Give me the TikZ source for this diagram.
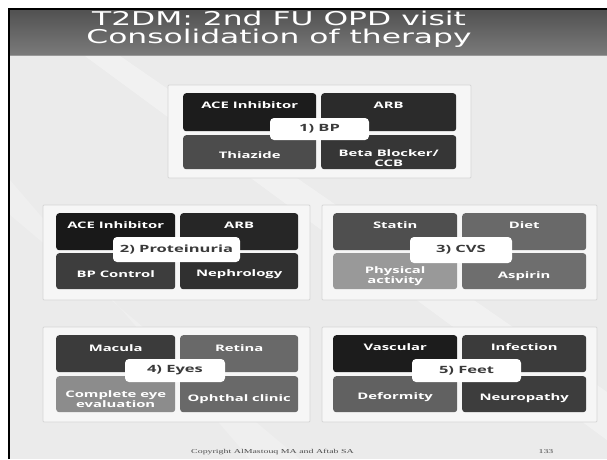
\documentclass[tikz,border=0pt]{standalone}
\usepackage{fontspec}
\usepackage{graphicx}
\setmainfont{Open Sans}
\newfontfamily\titlefont{DejaVu Sans}
\newfontfamily\footfont{Liberation Serif}
\usetikzlibrary{positioning}

% the slide text is stretched sideways
\newcommand{\wtext}[1]{\scalebox{1.65}[1]{#1}}

\definecolor{slidebg}{HTML}{EBEBEB}
\definecolor{panelfill}{HTML}{F6F6F6}
\definecolor{panelline}{HTML}{D6D6D6}
\definecolor{taggray}{HTML}{3A3A3A}

\tikzset{
  panel/.style={draw=panelline, fill=panelfill, line width=0.8pt, rounded corners=1pt},
  tile/.style={rounded corners=3pt, inner sep=0pt, anchor=north west, draw=none},
  tiletxt/.style={text=white, font=\bfseries\fontsize{9}{10}\selectfont, align=center, inner sep=0pt},
  tag/.style={fill=white, rounded corners=4pt, text=taggray, inner sep=0pt,
    font=\bfseries\fontsize{10}{11}\selectfont},
  foot/.style={text=black!70, font=\footfont\fontsize{6}{7}\selectfont, inner sep=0pt}
}

\begin{document}
\begin{tikzpicture}[x=1pt, y=-1pt]
\useasboundingbox (0,0) rectangle (607,459);
\fill[white] (0,0) rectangle (607,459); % page
\fill[slidebg] (10,55) rectangle (607,459); % slide
\fill[white, opacity=0.35] (85,56) -- (120,56) -- (607,392) -- (607,440) -- cycle; % streak
\fill[white, opacity=0.2] (10,180) -- (10,215) -- (300,459) -- (250,459) -- cycle; % streak
\shade[top color=black!68, bottom color=black!52] (10,10) rectangle (607,55); % title bar
\draw[black!40, line width=0.6pt] (10,55) -- (607,55);
\node[anchor=base, text=white, inner sep=0pt, align=center,
  font=\titlefont\fontsize{19}{18.5}\selectfont]
  (title) at (279,43.5) {\wtext{T2DM: 2nd FU OPD visit}\\\wtext{Consolidation of therapy}}; % title
\draw[line width=2pt] (9,459) -- (9,9) -- (607,9); % frame

% 1) BP
\draw[panel] (168,85) rectangle (471,178); % panel 1
\node[tile, fill=black!89, minimum width=133pt, minimum height=38pt] (bpace) at (183,93) {};
\node[tile, fill=black!83, minimum width=135pt, minimum height=38pt] (bparb) at (321,93) {};
\node[tile, fill=black!70, minimum width=133pt, minimum height=34pt] (bpthz) at (183,135) {};
\node[tile, fill=black!79, minimum width=135pt, minimum height=34pt] (bpbeta) at (321,135) {};
\node[tiletxt] (bpacet) at ([yshift=-12.5pt]bpace.north) {\wtext{ACE Inhibitor}};
\node[tiletxt] (bparbt) at ([yshift=-12.5pt]bparb.north) {\wtext{ARB}};
\node[tiletxt] (bpthzt) at ([yshift=14pt]bpthz.south) {\wtext{Thiazide}};
\node[tiletxt] (bpbetat) at ([yshift=11pt]bpbeta.south) {\wtext{Beta Blocker/}\\\wtext{CCB}};
\node[tag, minimum width=99pt, minimum height=22pt] (bptag) at (319.5,129) {\wtext{1) BP}};

% 2) Proteinuria
\draw[panel] (43,205) rectangle (310,300); % panel 2
\node[tile, fill=black!90, minimum width=119pt, minimum height=37pt] (prace) at (56,213) {};
\node[tile, fill=black!85, minimum width=118pt, minimum height=37pt] (prarb) at (180,213) {};
\node[tile, fill=black!76, minimum width=119pt, minimum height=36pt] (prbpc) at (56,253) {};
\node[tile, fill=black!81, minimum width=118pt, minimum height=36pt] (prnep) at (180,253) {};
\node[tiletxt] (pracet) at ([yshift=-12.5pt]prace.north) {\wtext{ACE Inhibitor}};
\node[tiletxt] (prarbt) at ([yshift=-12.5pt]prarb.north) {\wtext{ARB}};
\node[tiletxt] (prbpct) at ([yshift=15pt]prbpc.south) {\wtext{BP Control}};
\node[tiletxt] (prnept) at ([yshift=15pt]prnep.south) {\wtext{Nephrology}};
\node[tag, minimum width=127pt, minimum height=25pt] (prtag) at (176.5,249.5) {\wtext{2) Proteinuria}};

% 3) CVS
\draw[panel] (322,205) rectangle (597,300); % panel 3
\node[tile, fill=black!69, minimum width=124pt, minimum height=37pt] (cvstat) at (333,213) {};
\node[tile, fill=black!59, minimum width=124pt, minimum height=37pt] (cvdiet) at (462,213) {};
\node[tile, fill=black!40, minimum width=124pt, minimum height=36pt] (cvphys) at (333,253) {};
\node[tile, fill=black!57, minimum width=124pt, minimum height=36pt] (cvasp) at (462,253) {};
\node[tiletxt] (cvstatt) at ([yshift=-12.5pt]cvstat.north) {\wtext{Statin}};
\node[tiletxt] (cvdiett) at ([yshift=-12.5pt]cvdiet.north) {\wtext{Diet}};
\node[tiletxt] (cvphyst) at ([yshift=13pt]cvphys.south) {\wtext{Physical}\\\wtext{activity}};
\node[tiletxt] (cvaspt) at ([yshift=13pt]cvasp.south) {\wtext{Aspirin}};
\node[tag, minimum width=102pt, minimum height=26pt] (cvtag) at (461,250) {\wtext{3) CVS}};

% 4) Eyes
\draw[panel] (43,327) rectangle (310,422); % panel 4
\node[tile, fill=black!77, minimum width=119pt, minimum height=37pt] (eymac) at (56,335) {};
\node[tile, fill=black!59, minimum width=118pt, minimum height=37pt] (eyret) at (180,335) {};
\node[tile, fill=black!45, minimum width=119pt, minimum height=36pt] (eycomp) at (56,376) {};
\node[tile, fill=black!59, minimum width=118pt, minimum height=36pt] (eyoph) at (180,376) {};
\node[tiletxt] (eymact) at ([yshift=-13pt]eymac.north) {\wtext{Macula}};
\node[tiletxt] (eyrett) at ([yshift=-13pt]eyret.north) {\wtext{Retina}};
\node[tiletxt] (eycompt) at ([yshift=13.5pt]eycomp.south) {\wtext{Complete eye}\\\wtext{evaluation}};
\node[tiletxt] (eyopht) at ([yshift=13pt]eyoph.south) {\wtext{Ophthal clinic}};
\node[tag, minimum width=100pt, minimum height=23pt] (eytag) at (175,370.5) {\wtext{4) Eyes}};

% 5) Feet
\draw[panel] (322,327) rectangle (597,422); % panel 5
\node[tile, fill=black!89, minimum width=124pt, minimum height=37pt] (ftvasc) at (333,335) {};
\node[tile, fill=black!77, minimum width=124pt, minimum height=37pt] (ftinf) at (462,335) {};
\node[tile, fill=black!62, minimum width=124pt, minimum height=36pt] (ftdef) at (333,376) {};
\node[tile, fill=black!76, minimum width=124pt, minimum height=36pt] (ftneu) at (462,376) {};
\node[tiletxt] (ftvasct) at ([yshift=-12.5pt]ftvasc.north) {\wtext{Vascular}};
\node[tiletxt] (ftinft) at ([yshift=-12.5pt]ftinf.north) {\wtext{Infection}};
\node[tiletxt] (ftdeft) at ([yshift=15pt]ftdef.south) {\wtext{Deformity}};
\node[tiletxt] (ftneut) at ([yshift=14pt]ftneu.south) {\wtext{Neuropathy}};
\node[tag, minimum width=109pt, minimum height=23pt] (fttag) at (466.5,370.5) {\wtext{5) Feet}};

\node[foot] (copyr) at (272.5,452.5) {\wtext{Copyright AlMastouq MA and Aftab SA}}; % footer
\node[foot] (pageno) at (546,452) {\wtext{133}}; % slide number
\end{tikzpicture}
\end{document}
